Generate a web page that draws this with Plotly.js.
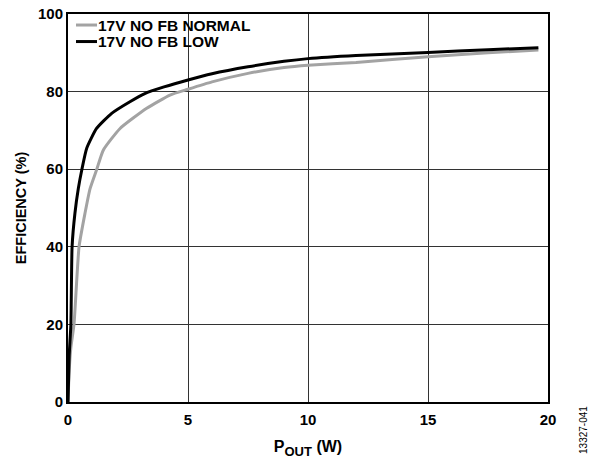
<!DOCTYPE html>
<html>
<head>
<meta charset="utf-8">
<script src="https://cdn.plot.ly/plotly-3.0.1.min.js"></script>
<style>html,body{margin:0;padding:0;background:#fff;}#chart{width:594px;height:461px;}</style>
</head>
<body>
<div id="chart"></div>
<script>
// Series: 17V NO FB NORMAL (gray)
const normalX = [0, 0.05, 0.12, 0.25, 0.46, 0.71, 0.92, 1.2, 1.47, 2.17, 3.28, 4.25, 5.0, 6.0, 7.5, 9.0, 10.0, 12.0, 15.0, 17.5, 19.6];
const normalY = [0, 8, 14, 20, 40, 48.7, 55, 60, 64.9, 70.5, 75.7, 79.1, 80.6, 82.5, 84.7, 86.2, 86.8, 87.5, 89.0, 90.0, 90.7];
// Series: 17V NO FB LOW (black)
const lowX = [0, 0.05, 0.12, 0.17, 0.29, 0.43, 0.58, 0.78, 1.19, 1.82, 2.58, 3.2, 4.0, 5.0, 6.0, 7.5, 9.0, 10.0, 12.0, 15.0, 17.5, 19.6];
const lowY = [0, 12, 20, 40, 48.7, 55, 60, 65.4, 70.5, 74.4, 77.4, 79.5, 81.2, 83.0, 84.6, 86.4, 87.8, 88.5, 89.3, 90.1, 90.8, 91.3];
const seriesNames = ["17V NO FB NORMAL", "17V NO FB LOW"];
const seriesColors = ["#a3a3a3", "#000000"];
const xTicks = [0, 5, 10, 15, 20];
const yTicks = [0, 20, 40, 60, 80, 100];

const FONT = "Liberation Sans, Arial, Helvetica, sans-serif";
const traces = [
  {x: normalX, y: normalY, name: seriesNames[0], mode: "lines", line: {color: seriesColors[0], width: 3, shape: "spline", smoothing: 0.5}},
  {x: lowX, y: lowY, name: seriesNames[1], mode: "lines", line: {color: seriesColors[1], width: 3, shape: "spline", smoothing: 0.5}}
];

// manual compact legend (paper coords relative to plot area)
const legRows = [0.9716, 0.929];
const legendShapes = seriesNames.map((n, i) => ({
  type: "line", xref: "paper", yref: "paper", x0: 0.0167, x1: 0.0604, y0: legRows[i], y1: legRows[i],
  line: {color: seriesColors[i], width: 3}
}));
const legendTexts = seriesNames.map((n, i) => ({
  text: n, xref: "paper", yref: "paper", x: 0.0625, y: legRows[i], xanchor: "left", yanchor: "middle",
  showarrow: false, borderpad: 0, xshift: -1,
  font: {family: FONT, size: 15.5, weight: "bold", color: "#000"}
}));

const layout = {
  width: 594, height: 461,
  margin: {l: 68, r: 46, t: 14, b: 59},
  paper_bgcolor: "#fff", plot_bgcolor: "#fff",
  font: {family: FONT, size: 15, color: "#000"},
  showlegend: false,
  xaxis: {range: [0, 20], tickvals: xTicks, ticktext: xTicks.map(String),
          showgrid: true, gridcolor: "#333", gridwidth: 1,
          showline: true, linecolor: "#000", linewidth: 2, mirror: true,
          ticks: "", zeroline: false, ticklabelstandoff: 3,
          tickfont: {family: FONT, size: 15, weight: "bold"},
          title: {text: "P<sub><span style='font-size:13px'>OUT</span></sub> (W)", font: {family: FONT, size: 16, weight: "bold"}, standoff: 14}},
  yaxis: {range: [0, 100], tickvals: yTicks, ticktext: yTicks.map(String),
          showgrid: true, gridcolor: "#333", gridwidth: 1,
          showline: true, linecolor: "#000", linewidth: 2, mirror: true,
          ticks: "", zeroline: false,
          tickfont: {family: FONT, size: 15, weight: "bold"},
          title: {text: "EFFICIENCY (%)", font: {family: FONT, size: 14.5, weight: "bold"}, standoff: 8}},
  shapes: legendShapes,
  annotations: legendTexts.concat([{text: "13327-041", xref: "paper", yref: "paper", x: 1.075, y: -0.005, xanchor: "center", yanchor: "top",
                 textangle: -90, showarrow: false, font: {family: FONT, size: 10, color: "#000"}}])
};
Plotly.newPlot("chart", traces, layout, {displayModeBar: false, staticPlot: true});
</script>
</body>
</html>
